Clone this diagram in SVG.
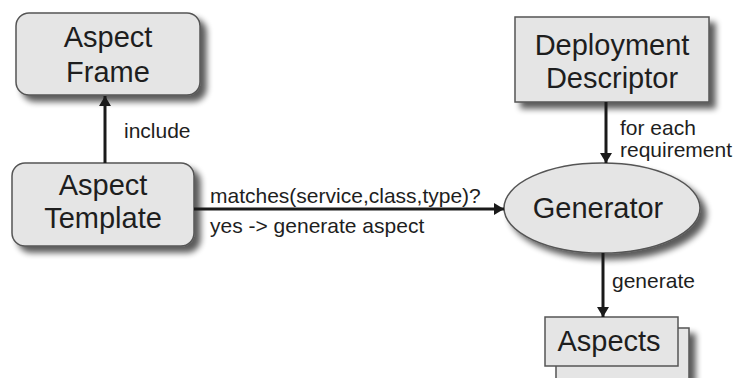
<svg xmlns="http://www.w3.org/2000/svg" width="735" height="378" viewBox="0 0 735 378">
  <defs>
    <filter id="shadow" x="-20%" y="-20%" width="150%" height="160%">
      <feGaussianBlur in="SourceAlpha" stdDeviation="3"/>
      <feOffset dx="6" dy="6" result="blur"/>
      <feComponentTransfer><feFuncA type="linear" slope="0.65"/></feComponentTransfer>
      <feMerge><feMergeNode/><feMergeNode in="SourceGraphic"/></feMerge>
    </filter>
    <marker id="arrow" viewBox="0 0 10 16" refX="10" refY="8" markerWidth="10" markerHeight="16" markerUnits="userSpaceOnUse" orient="auto">
      <path d="M0,2 L10,8 L0,14 Z" fill="#1a1a1a"/>
    </marker>
  </defs>
  <style>
    .box { fill: #e5e5e5; stroke: #555; stroke-width: 1.5; }
    .label { font-family: "Liberation Sans", Arial, sans-serif; font-size: 29px; fill: #1e1e1e; text-anchor: middle; }
    .edge { font-family: "Liberation Sans", Arial, sans-serif; font-size: 21px; fill: #1e1e1e; }
    .conn { stroke: #1a1a1a; stroke-width: 3; fill: none; marker-end: url(#arrow); }
  </style>

  <rect width="735" height="378" fill="#fff"/>

  <g id="aspect-frame">
    <rect class="box" x="16" y="13" width="184" height="82" rx="13" filter="url(#shadow)"/>
    <text class="label" x="108" y="47">Aspect</text>
    <text class="label" x="108" y="82">Frame</text>
  </g>

  <g id="aspect-template">
    <rect class="box" x="12" y="163" width="182" height="83" rx="13" filter="url(#shadow)"/>
    <text class="label" x="103" y="195">Aspect</text>
    <text class="label" x="103" y="228">Template</text>
  </g>

  <g id="deployment-descriptor">
    <rect class="box" x="515" y="17" width="194" height="85" filter="url(#shadow)"/>
    <text class="label" x="612" y="55">Deployment</text>
    <text class="label" x="612" y="88">Descriptor</text>
  </g>

  <g id="generator">
    <ellipse class="box" cx="602" cy="208" rx="98" ry="45" filter="url(#shadow)"/>
    <text class="label" x="598" y="218">Generator</text>
  </g>

  <g id="aspects">
    <rect class="box" x="556" y="328" width="133" height="62" filter="url(#shadow)"/>
    <rect class="box" x="545" y="317" width="133" height="49"/>
    <text class="label" x="609" y="351">Aspects</text>
  </g>

  <g id="connectors">
    <line class="conn" x1="105" y1="163" x2="105" y2="96"/>
    <text class="edge" x="124" y="138">include</text>

    <line class="conn" x1="194" y1="209" x2="504" y2="209"/>
    <text class="edge" x="210" y="203">matches(service,class,type)?</text>
    <text class="edge" x="210" y="233">yes -&gt; generate aspect</text>

    <line class="conn" x1="606" y1="102" x2="606" y2="163"/>
    <text class="edge" x="620" y="135">for each</text>
    <text class="edge" x="620" y="157">requirement</text>

    <line class="conn" x1="603" y1="253" x2="603" y2="317"/>
    <text class="edge" x="612" y="288">generate</text>
  </g>
</svg>
